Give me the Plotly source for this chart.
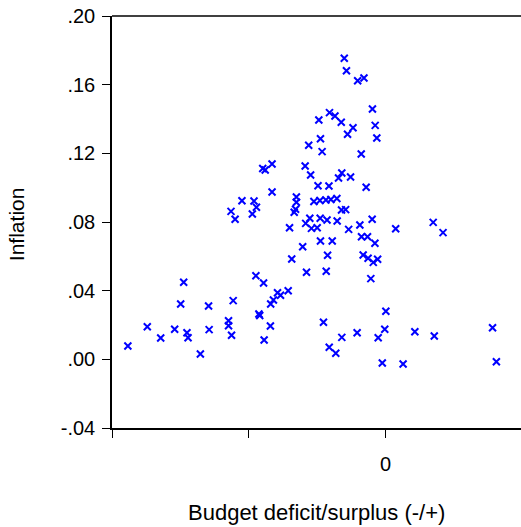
import plotly.graph_objects as go

# Budget deficit/surplus (-/+) values (x) and inflation (y)
deficit = [
    -0.0942, -0.0871, -0.0822, -0.0771, -0.0738, -0.0749, -0.0726, -0.0722, -0.0647, -0.0645,
    -0.0677, -0.0557, -0.0574, -0.0574, -0.0563, -0.0474, -0.0463, -0.0460, -0.0421, -0.0444,
    -0.0232, -0.0449, -0.0440, -0.0415, -0.0294, -0.0274, -0.0247, -0.0207, -0.0415, -0.0525,
    -0.0481, -0.0472, -0.0487, -0.0565, -0.0550, -0.0326, -0.0326, -0.0329, -0.0334, -0.0262,
    -0.0240, -0.0218, -0.0200, -0.0178, -0.0351, -0.0292, -0.0277, -0.0271, -0.0250, -0.0239,
    -0.0214, -0.0238, -0.0195, -0.0303, -0.0212, -0.0343, -0.0289, -0.0217, -0.0446, -0.0356,
    -0.0395, -0.0384, -0.0410, -0.0420, -0.0151, -0.0143, -0.0102, -0.0079, -0.0048, -0.0038,
    -0.0032, -0.0244, -0.0205, -0.0185, -0.0162, -0.0119, -0.0139, -0.0238, -0.0281, -0.0089,
    -0.0160, -0.0172, -0.0128, -0.0071, -0.0161, -0.0146, -0.0177, -0.0135, -0.0094, -0.0049,
    0.0037, -0.0088, -0.0066, -0.0039, -0.0082, -0.0064, -0.0045, -0.0029, -0.0054, 0.0001,
    -0.0227, -0.0003, -0.0027, -0.0104, -0.0160, -0.0206, -0.0182, -0.0012, 0.0064, 0.0174,
    0.0210, 0.0107, 0.0178, 0.0391, 0.0405,
]
inflation = [
    0.0078, 0.0190, 0.0124, 0.0175, 0.0449, 0.0322, 0.0155, 0.0126, 0.0311, 0.0173,
    0.0031, 0.0342, 0.0225, 0.0196, 0.0140, 0.0487, 0.0264, 0.0255, 0.0194, 0.0113,
    0.1210, 0.1112, 0.1103, 0.1138, 0.1126, 0.1074, 0.1011, 0.1010, 0.0975, 0.0924,
    0.0922, 0.0886, 0.0847, 0.0862, 0.0816, 0.0946, 0.0915, 0.0874, 0.0857, 0.0919,
    0.0925, 0.0928, 0.0931, 0.0937, 0.0767, 0.0792, 0.0822, 0.0763, 0.0767, 0.0822,
    0.0812, 0.0689, 0.0689, 0.0656, 0.0606, 0.0584, 0.0507, 0.0513, 0.0445, 0.0400,
    0.0388, 0.0373, 0.0346, 0.0322, 0.1754, 0.1681, 0.1623, 0.1639, 0.1458, 0.1363,
    0.1289, 0.1394, 0.1437, 0.1417, 0.1381, 0.1349, 0.1311, 0.1285, 0.1247, 0.1196,
    0.1085, 0.1056, 0.1062, 0.1002, 0.0870, 0.0872, 0.0806, 0.0757, 0.0783, 0.0816,
    0.0761, 0.0714, 0.0714, 0.0676, 0.0608, 0.0589, 0.0565, 0.0583, 0.0470, 0.0280,
    0.0216, 0.0175, 0.0126, 0.0155, 0.0128, 0.0070, 0.0035, -0.0021, -0.0027, 0.0798,
    0.0738, 0.0161, 0.0136, 0.0184, -0.0014,
]

y_tickvals = [-0.04, 0.0, 0.04, 0.08, 0.12, 0.16, 0.20]
y_ticktext = ["-.04", ".00", ".04", ".08", ".12", ".16", ".20"]
x_tickvals = [-0.10, -0.05, 0.0]
x_ticktext = ["", "", "0"]

fig = go.Figure()
fig.add_trace(go.Scatter(
    x=deficit, y=inflation, mode="markers",
    marker=dict(symbol="x-thin", size=7, color="#0000FF",
                line=dict(color="#0000FF", width=2)),
    cliponaxis=False, showlegend=False,
))

font = dict(family="Liberation Sans, Arial, sans-serif", size=20, color="black")

fig.update_layout(
    width=521, height=527,
    margin=dict(l=112, r=0, t=16, b=99),
    paper_bgcolor="white", plot_bgcolor="white",
    font=font,
    xaxis=dict(range=[-0.10, 0.0495], showgrid=False, zeroline=False,
               showline=True, linecolor="black", linewidth=1.5,
               ticks="outside", ticklen=8, tickcolor="black", tickwidth=1,
               tickvals=x_tickvals, ticktext=x_ticktext,
               ticklabelstandoff=9, tickfont=dict(size=20)),
    yaxis=dict(range=[-0.04, 0.20], showgrid=False, zeroline=False,
               showline=True, linecolor="black", linewidth=1.5,
               ticks="outside", ticklen=8, tickcolor="black", tickwidth=1,
               tickvals=y_tickvals, ticktext=y_ticktext,
               ticklabelstandoff=3, tickfont=dict(size=20)),
    shapes=[dict(type="line", xref="paper", yref="paper", x0=0, x1=1, y0=1, y1=1,
                 line=dict(color="black", width=1.5))],
    annotations=[
        dict(text="Budget deficit/surplus (-/+)", xref="paper", yref="paper",
             x=0.5, y=-0.2063, yanchor="middle", xanchor="center",
             showarrow=False, font=dict(size=22)),
        dict(text="Inflation", xref="paper", yref="paper",
             x=-0.2335, y=0.496, textangle=-90, xanchor="center", yanchor="middle",
             showarrow=False, font=dict(size=21)),
    ],
)

fig.write_html("out.html")
